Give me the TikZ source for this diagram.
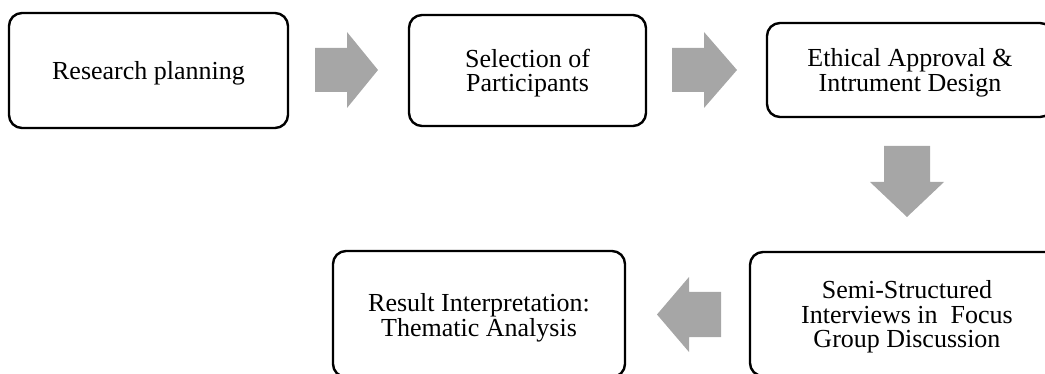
\documentclass[tikz,border=0pt]{standalone}
\usepackage{fontspec}
\setmainfont{Liberation Serif}
\definecolor{arrowgray}{RGB}{166,166,166}
\newcommand\firstlinestrut[1][24pt]{\rule{0pt}{#1}}
\tikzset{
  stepbox/.style={draw=black, line width=2.4pt, rounded corners=13pt, align=center,
    inner sep=0pt, font=\fontsize{26}{24.5}\selectfont},
  blockarrow/.style={fill=arrowgray, draw=none},
}
\begin{document}
\begin{tikzpicture}[x=1pt,y=-1pt]
\clip (0,0) rectangle (1045,374);
\useasboundingbox (0,0) rectangle (1045,374);
% boxes
\node[stepbox, minimum width=279pt, minimum height=115pt] (b1) at (148.5,70.5) {\firstlinestrut Research planning};
\node[stepbox, minimum width=237pt, minimum height=111pt] (b2) at (527.5,70.5) {\firstlinestrut Selection of\\Participants};
\node[stepbox, minimum width=286pt, minimum height=94pt] (b3) at (910,70) {\firstlinestrut Ethical Approval \&\\Intrument Design};
\node[stepbox, minimum width=314pt, minimum height=124pt] (b5) at (907,314) {\firstlinestrut Semi-Structured\\Interviews in\ \ Focus\\Group Discussion};
\node[stepbox, minimum width=292pt, minimum height=126pt] (b4) at (479,314) {\firstlinestrut[26pt]Result Interpretation:\\Thematic Analysis};
% block arrows
\coordinate (a1) at (315,70);
\coordinate (a2) at (672,70);
\coordinate (a3) at (907,146);
\coordinate (a4) at (721,314.5);
\fill[blockarrow] (a1) ++(0,-22) -- ++(32,0) -- ++(0,-16) -- ++(31,38) -- ++(-31,38) -- ++(0,-16) -- ++(-32,0) -- cycle;
\fill[blockarrow] (a2) ++(0,-22) -- ++(32,0) -- ++(0,-16) -- ++(33,38) -- ++(-33,38) -- ++(0,-16) -- ++(-32,0) -- cycle;
\fill[blockarrow] (a3) ++(-23,0) -- ++(46,0) -- ++(0,36) -- ++(14,0) -- ++(-37,35) -- ++(-37,-35) -- ++(14,0) -- cycle;
\fill[blockarrow] (a4) ++(0,-22.5) -- ++(-32,0) -- ++(0,-15) -- ++(-32,37.5) -- ++(32,37.5) -- ++(0,-15) -- ++(32,0) -- cycle;
\end{tikzpicture}
\end{document}
